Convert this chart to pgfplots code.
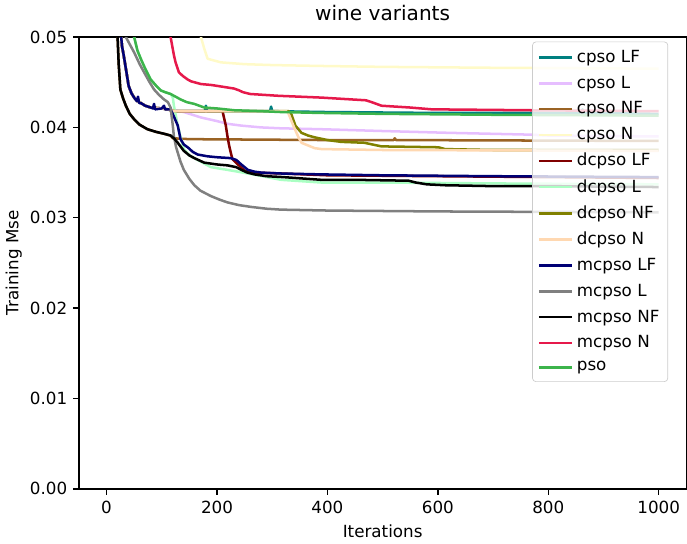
\documentclass[border=0pt]{standalone}
\usepackage{fontspec}
\setmainfont{DejaVu Sans}
\usepackage{pgfplots}
\pgfplotsset{compat=1.18}

\definecolor{cTeal}{RGB}{0,128,128}
\definecolor{cLav}{RGB}{230,190,255}
\definecolor{cBrown}{RGB}{154,99,36}
\definecolor{cBeige}{RGB}{255,250,200}
\definecolor{cMaroon}{RGB}{128,0,0}
\definecolor{cMint}{RGB}{170,255,195}
\definecolor{cOlive}{RGB}{128,128,0}
\definecolor{cApricot}{RGB}{255,216,177}
\definecolor{cNavy}{RGB}{0,0,117}
\definecolor{cGrey}{RGB}{128,128,128}
\definecolor{cCrimson}{RGB}{230,25,75}
\definecolor{cGreen}{RGB}{60,180,75}

\begin{document}
\begin{tikzpicture}
\begin{axis}[
    scale only axis,
    width=363pt, height=270pt,
    xmin=-50, xmax=1050, ymin=0, ymax=0.05,
    xtick={0,200,400,600,800,1000},
    ytick={0,0.01,0.02,0.03,0.04,0.05},
    scaled y ticks=false,
    xticklabel style={/pgf/number format/.cd, 1000 sep={}},
    yticklabel style={/pgf/number format/.cd, fixed, fixed zerofill, precision=2},
    /pgf/number format/assume math mode=true,
    tick align=outside,
    xtick pos=bottom, ytick pos=left,
    major tick length=3.5pt,
    tick style={black, line width=0.8pt},
    axis line style={line width=0.8pt},
    tick label style={font=\fontsize{10}{12}\selectfont},
    label style={font=\fontsize{10}{12}\selectfont},
    ylabel style={yshift=-2pt},
    title style={font=\fontsize{12}{14}\selectfont},
    title={wine variants},
    xlabel={Iterations},
    ylabel={Training Mse},
    every axis plot/.append style={line width=1.5pt, no markers, line join=round},
    legend cell align=left,
    legend image code/.code={\draw[#1] (0pt,0pt) -- (20pt,0pt);},
    legend style={at={(0.97,0.99)}, anchor=north east, draw=black!20,
        rounded corners=2pt, fill=white, fill opacity=0.8, text opacity=1,
        font=\fontsize{10}{12}\selectfont, row sep=2.6pt, inner sep=3pt},
]
% cpso LF
\addplot[cTeal] coordinates {(0,0.09) (20,0.06) (25,0.051) (28,0.049) (31,0.048) (35,0.0465) (40,0.0446) (45,0.0438) (50,0.0433) (56,0.0429) (62,0.0427) (70,0.0424) (80,0.0422) (100,0.0421) (111,0.0420) (116,0.0419) (125,0.0418) (160,0.0418) (178,0.0418) (180,0.0424) (182,0.0418) (250,0.0418) (296,0.0418) (298,0.0423) (300,0.0418) (400,0.0417) (600,0.0416) (860,0.0416) (862,0.0420) (864,0.0416) (1000,0.0415)};
% cpso L
\addplot[cLav] coordinates {(0,0.09) (20,0.06) (25,0.051) (28,0.049) (31,0.048) (35,0.0465) (40,0.0446) (45,0.0438) (50,0.0433) (56,0.0429) (62,0.0427) (70,0.0424) (80,0.0422) (100,0.0421) (111,0.0420) (116,0.0420) (122,0.0419) (140,0.0417) (171,0.0411) (200,0.0407) (219,0.0404) (244,0.0402) (280,0.0400) (316,0.0399) (389,0.0398) (500,0.0396) (620,0.0394) (767,0.0392) (800,0.0391) (1000,0.0390)};
% cpso NF
\addplot[cBrown] coordinates {(0,0.09) (15,0.06) (20,0.050) (22,0.047) (25,0.0442) (30,0.0432) (35,0.0424) (42,0.0415) (50,0.0409) (60,0.0403) (74,0.0398) (90,0.0395) (104,0.0393) (116,0.0391) (120,0.0388) (150,0.0387) (400,0.0386) (520,0.0386) (522,0.0388) (524,0.0386) (1000,0.0385)};
% cpso N
\addplot[cBeige] coordinates {(0,0.1) (160,0.06) (171,0.050) (177,0.0487) (183,0.0476) (195,0.0474) (207,0.0472) (250,0.0470) (300,0.0469) (389,0.0468) (500,0.0467) (700,0.0466) (1000,0.0465)};
% dcpso LF
\addplot[cMaroon] coordinates {(0,0.09) (20,0.06) (25,0.051) (28,0.049) (31,0.048) (35,0.0465) (40,0.0446) (45,0.0438) (50,0.0433) (56,0.0429) (62,0.0427) (70,0.0424) (80,0.0422) (100,0.0421) (111,0.0420) (116,0.0419) (125,0.0418) (210,0.0418) (213,0.0410) (216,0.0402) (219,0.0390) (222,0.0380) (225,0.0372) (228,0.0365) (238,0.0359) (250,0.0352) (268,0.0350) (316,0.0349) (400,0.0347) (600,0.0346) (1000,0.0344)};
% dcpso L
\addplot[cMint] coordinates {(0,0.1) (40,0.058) (50,0.050) (56,0.0485) (62,0.0476) (70,0.0465) (80,0.0453) (90,0.0446) (98,0.0441) (106,0.0439) (116,0.0437) (120,0.0433) (122,0.0424) (129,0.0402) (135,0.0387) (140,0.0376) (150,0.0369) (165,0.0364) (189,0.0356) (219,0.0353) (238,0.0351) (274,0.0347) (316,0.0342) (389,0.0339) (500,0.0339) (700,0.0338) (1000,0.0337)};
% dcpso NF
\addplot[cOlive] coordinates {(0,0.09) (20,0.06) (25,0.051) (28,0.049) (31,0.048) (35,0.0465) (40,0.0446) (45,0.0438) (50,0.0433) (56,0.0429) (62,0.0427) (70,0.0424) (80,0.0422) (100,0.0421) (111,0.0420) (116,0.0419) (125,0.0418) (330,0.0418) (335,0.0414) (342,0.0402) (353,0.0394) (365,0.0391) (377,0.0389) (400,0.0386) (425,0.0384) (467,0.0383) (490,0.0380) (498,0.0379) (601,0.0378) (613,0.0376) (700,0.0375) (1000,0.0375)};
% dcpso N
\addplot[cApricot] coordinates {(0,0.09) (20,0.06) (25,0.051) (28,0.049) (31,0.048) (35,0.0465) (40,0.0446) (45,0.0438) (50,0.0433) (56,0.0429) (62,0.0427) (70,0.0424) (80,0.0422) (100,0.0421) (111,0.0420) (116,0.0419) (125,0.0418) (325,0.0418) (329,0.0416) (335,0.0407) (341,0.0398) (347,0.0390) (353,0.0383) (365,0.0380) (377,0.0377) (390,0.0376) (500,0.0375) (1000,0.0374)};
% mcpso LF
\addplot[cNavy] coordinates {(0,0.09) (20,0.06) (25,0.051) (28,0.049) (31,0.048) (35,0.0465) (40,0.0446) (45,0.0438) (50,0.0433) (55,0.0429) (57,0.0434) (59,0.0427) (62,0.0427) (70,0.0424) (80,0.0422) (84,0.0421) (86,0.0426) (88,0.0420) (100,0.0421) (104,0.0424) (106,0.0420) (111,0.0420) (116,0.0420) (122,0.0412) (129,0.0402) (134,0.0387) (140,0.0381) (147,0.0378) (156,0.0373) (165,0.0370) (183,0.0368) (200,0.0367) (225,0.0366) (235,0.0364) (244,0.0359) (256,0.0353) (268,0.0351) (280,0.0350) (316,0.0349) (389,0.0348) (500,0.0347) (700,0.0346) (1000,0.0345)};
% mcpso L
\addplot[cGrey] coordinates {(0,0.1) (25,0.06) (35,0.050) (42,0.0492) (50,0.0483) (60,0.0470) (68,0.0461) (78,0.0450) (86,0.0442) (95,0.0436) (104,0.0431) (111,0.0428) (116,0.0422) (120,0.0402) (122,0.0390) (126,0.0378) (129,0.0372) (134,0.0362) (140,0.0353) (150,0.0343) (159,0.0336) (170,0.0330) (189,0.0324) (205,0.0320) (219,0.0317) (240,0.0314) (262,0.0312) (290,0.0310) (316,0.0309) (400,0.0308) (600,0.0307) (1000,0.0306)};
% mcpso NF
\addplot[black] coordinates {(0,0.09) (15,0.06) (20,0.050) (22,0.047) (25,0.0442) (30,0.0432) (35,0.0424) (42,0.0415) (50,0.0409) (60,0.0403) (74,0.0398) (90,0.0395) (104,0.0393) (116,0.0391) (122,0.0388) (129,0.0383) (140,0.0374) (150,0.0369) (159,0.0366) (177,0.0361) (200,0.0359) (219,0.0358) (235,0.0356) (244,0.0353) (255,0.0350) (268,0.0348) (290,0.0346) (320,0.0345) (389,0.0342) (450,0.0342) (547,0.0341) (560,0.0339) (580,0.0337) (613,0.0336) (700,0.0335) (800,0.0335) (1000,0.0334)};
% mcpso N
\addplot[cCrimson] coordinates {(0,0.1) (100,0.06) (116,0.050) (122,0.048) (125,0.0472) (131,0.0461) (138,0.0457) (147,0.0453) (153,0.0451) (171,0.0448) (189,0.0447) (200,0.0446) (231,0.0443) (240,0.0441) (247,0.0439) (260,0.0437) (311,0.0435) (389,0.0433) (470,0.0430) (480,0.0428) (498,0.0424) (550,0.0422) (589,0.0420) (767,0.0419) (1000,0.0418)};
% pso
\addplot[cGreen] coordinates {(0,0.1) (40,0.058) (50,0.050) (56,0.0485) (62,0.0476) (70,0.0465) (80,0.0453) (90,0.0446) (98,0.0441) (106,0.0439) (116,0.0437) (125,0.0434) (134,0.0431) (145,0.0428) (159,0.0426) (177,0.0422) (200,0.0421) (231,0.0419) (280,0.0418) (316,0.0417) (389,0.0416) (500,0.0415) (700,0.0414) (1000,0.0413)};
\legend{cpso LF, cpso L, cpso NF, cpso N, dcpso LF, dcpso L, dcpso NF, dcpso N, mcpso LF, mcpso L, mcpso NF, mcpso N, pso}
\end{axis}
\end{tikzpicture}
\end{document}
